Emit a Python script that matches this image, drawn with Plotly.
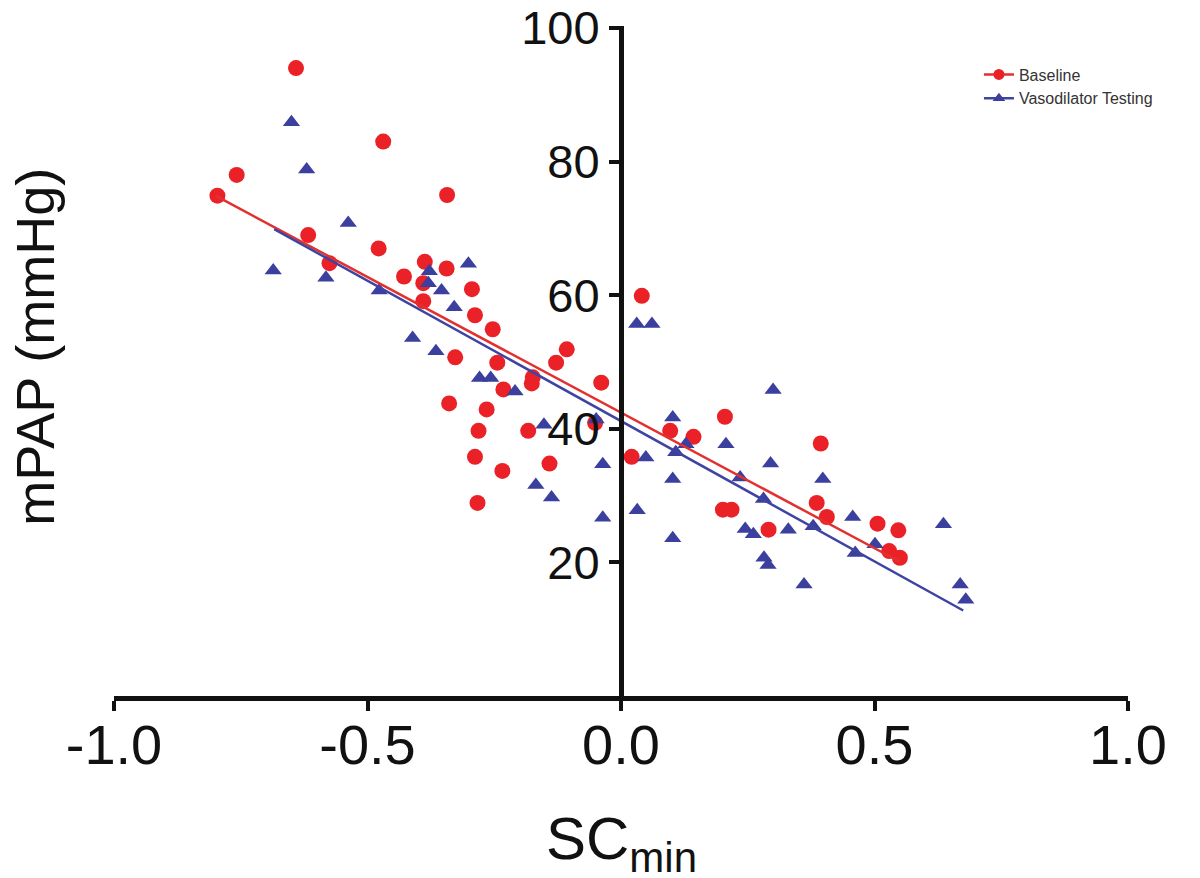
import plotly.graph_objects as go

# Baseline (red circles)
baseline_x = [-0.796, -0.758, -0.641, -0.617, -0.575, -0.478, -0.469, -0.428, -0.387, -0.390,
              -0.390, -0.343, -0.344, -0.327, -0.339, -0.294, -0.288, -0.253, -0.244, -0.232,
              -0.265, -0.281, -0.288, -0.234, -0.283, -0.174, -0.176, -0.183, -0.141, -0.128,
              -0.107, -0.039, -0.051, 0.021, 0.041, 0.097, 0.143, 0.205, 0.201, 0.218,
              0.291, 0.394, 0.386, 0.406, 0.506, 0.547, 0.529, 0.550]
baseline_y = [74.9, 78.0, 94.0, 69.0, 64.8, 67.0, 83.0, 62.8, 65.0, 61.8,
              59.1, 75.0, 64.0, 50.7, 43.8, 60.9, 57.0, 54.9, 49.9, 45.9,
              42.9, 39.7, 35.8, 33.7, 28.9, 47.7, 46.8, 39.7, 34.8, 49.9,
              51.9, 46.9, 40.9, 35.8, 59.9, 39.7, 38.8, 41.8, 27.9, 27.9,
              24.9, 37.8, 28.9, 26.8, 25.8, 24.8, 21.7, 20.7]

# Vasodilator testing (blue triangles)
vaso_x = [-0.650, -0.620, -0.538, -0.686, -0.582, -0.477, -0.378, -0.380, -0.354, -0.301,
          -0.329, -0.411, -0.365, -0.279, -0.257, -0.209, -0.152, -0.049, -0.036, -0.168,
          -0.137, -0.036, 0.032, 0.049, 0.031, 0.061, 0.300, 0.102, 0.128, 0.207,
          0.108, 0.295, 0.102, 0.235, 0.398, 0.281, 0.245, 0.261, 0.330, 0.379,
          0.102, 0.457, 0.501, 0.462, 0.636, 0.361, 0.669, 0.680, 0.282, 0.290]
vaso_y = [85.9, 78.8, 70.8, 63.7, 62.6, 60.7, 63.6, 61.8, 60.7, 64.7,
          58.2, 53.6, 51.6, 47.6, 47.6, 45.6, 40.6, 41.4, 34.7, 31.6,
          29.7, 26.7, 27.8, 35.7, 55.7, 55.7, 45.8, 41.7, 37.7, 37.7,
          36.5, 34.8, 32.5, 32.7, 32.5, 29.5, 25.0, 24.2, 24.9, 25.4,
          23.6, 26.8, 22.7, 21.4, 25.7, 16.7, 16.7, 14.4, 20.7, 19.6]

# Regression lines (end points)
baseline_fit_x = [-0.800, 0.550]
baseline_fit_y = [74.9, 20.1]
vaso_fit_x = [-0.684, 0.675]
vaso_fit_y = [69.9, 12.8]

x_ticks = [-1.0, -0.5, 0.0, 0.5, 1.0]
x_tick_labels = ["-1.0", "-0.5", "0.0", "0.5", "1.0"]
y_ticks = [20, 40, 60, 80, 100]
y_tick_labels = ["20", "40", "60", "80", "100"]

RED = "#EA2228"
BLUE = "#3B3F9E"
RED_LINE = "#E2302F"
BLUE_LINE = "#3D44A2"
FONT = "Liberation Sans, Arial, Helvetica, sans-serif"

fig = go.Figure()

fig.add_trace(go.Scatter(x=baseline_x, y=baseline_y, mode="markers",
                         marker=dict(symbol="circle", size=16, color=RED),
                         showlegend=False, hoverinfo="skip"))
fig.add_trace(go.Scatter(x=vaso_x, y=vaso_y, mode="markers",
                         marker=dict(symbol="triangle-up", size=15, color=BLUE),
                         showlegend=False, hoverinfo="skip"))
fig.add_trace(go.Scatter(x=baseline_fit_x, y=baseline_fit_y, mode="lines",
                         line=dict(color=RED_LINE, width=2.5),
                         showlegend=False, hoverinfo="skip"))
fig.add_trace(go.Scatter(x=vaso_fit_x, y=vaso_fit_y, mode="lines",
                         line=dict(color=BLUE_LINE, width=2.5),
                         showlegend=False, hoverinfo="skip"))

# legend entries
fig.add_trace(go.Scatter(x=[None], y=[None], mode="lines+markers", name="Baseline",
                         marker=dict(symbol="circle", size=11, color=RED),
                         line=dict(color=RED_LINE, width=2.5)))
fig.add_trace(go.Scatter(x=[None], y=[None], mode="lines+markers", name="Vasodilator Testing",
                         marker=dict(symbol="triangle-up", size=11, color=BLUE),
                         line=dict(color=BLUE_LINE, width=2.5)))

# page body has an 8px margin: figure is sized/offset to compensate
fig.update_layout(
    width=1192, height=870,
    margin=dict(l=106, r=72, t=18, b=182, autoexpand=False),
    paper_bgcolor="white", plot_bgcolor="white",
    font=dict(family=FONT, color="#111111"),
    showlegend=True,
    legend=dict(x=0.853, y=0.953, xanchor="left", yanchor="top",
                font=dict(size=16, color="#333333", family=FONT),
                bgcolor="rgba(0,0,0,0)", tracegroupgap=0, itemwidth=30),
    xaxis=dict(range=[-1.0, 1.0], showgrid=False, zeroline=False,
               showline=True, linecolor="#111111", linewidth=5,
               ticks="outside", ticklen=10, tickwidth=4, tickcolor="#111111",
               tickvals=x_ticks, ticktext=x_tick_labels, automargin=False,
               ticklabelstandoff=-14,
               tickfont=dict(size=56, family=FONT, color="#111111")),
    yaxis=dict(range=[0, 100.3], showgrid=False, zeroline=False,
               anchor="free", position=0.5, automargin=False,
               showline=True, linecolor="#111111", linewidth=5,
               ticks="outside", ticklen=10, tickwidth=4, tickcolor="#111111",
               tickvals=y_ticks, ticktext=y_tick_labels,
               ticklabeloverflow="allow",
               tickfont=dict(size=47, family=FONT, color="#111111")),
    annotations=[
        dict(text="SC<sub>min</sub>", xref="paper", yref="paper", x=0.5, y=-0.22,
             xanchor="center", yanchor="middle", showarrow=False,
             font=dict(size=60, family=FONT, color="#111111")),
        dict(text="mPAP (mmHg)", xref="paper", yref="paper", x=-0.078, y=0.521,
             xanchor="center", yanchor="middle", showarrow=False, textangle=-90,
             font=dict(size=54, family=FONT, color="#111111")),
    ],
)

fig.write_html("out.html")
